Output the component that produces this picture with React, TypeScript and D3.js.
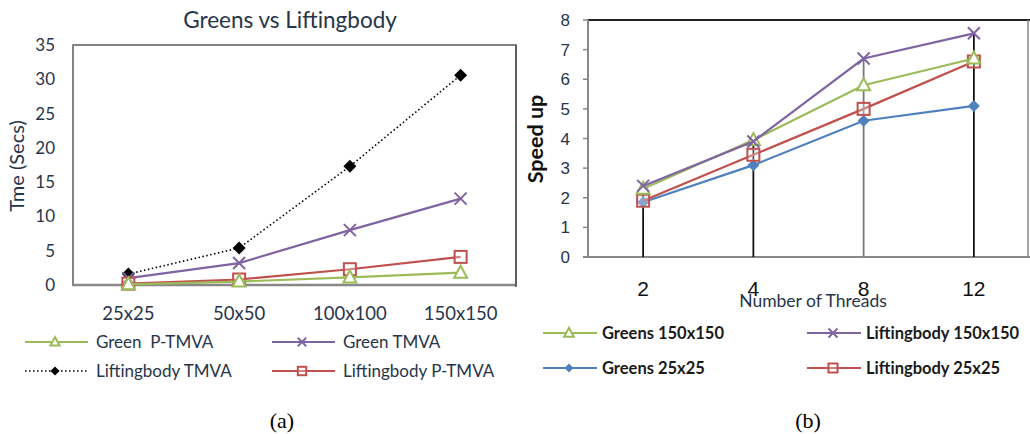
import * as d3 from "d3";

// ---- chart (a) data
const gridSizes = ["25x25", "50x50", "100x100", "150x150"];
const greenPTMVA = [0.1, 0.5, 1.1, 1.8];
const greenTMVA = [1.0, 3.2, 8.0, 12.6];
const liftTMVA = [1.6, 5.4, 17.3, 30.6];
const liftPTMVA = [0.2, 0.8, 2.3, 4.1];
const timeTicks = [0, 5, 10, 15, 20, 25, 30, 35];

// ---- chart (b) data
const threads = ["2", "4", "8", "12"];
const greens150 = [2.3, 3.95, 5.8, 6.7];
const lift150 = [2.4, 3.9, 6.7, 7.55];
const greens25 = [1.85, 3.1, 4.6, 5.1];
const lift25 = [1.9, 3.45, 5.0, 6.6];
const speedTicks = [0, 1, 2, 3, 4, 5, 6, 7, 8];

const GREEN = "#9bbb59";
const PURPLE = "#8064a2";
const RED = "#c0504d";
const BLUE = "#4f81bd";
const INK = "#27354a";
const CAL = "Lato, 'Open Sans', sans-serif";
const ARIAL = "'Liberation Sans', Arial, sans-serif";

type Kind = "tri" | "x" | "diamond" | "square" | "bdiamond";

function Marker({ kind, x, y, color, k = 1 }: { kind: Kind; x: number; y: number; color: string; k?: number }) {
  if (kind === "tri")
    return (
      <path
        d={`M${x},${y - 7 * k}L${x + 6.5 * k},${y + 5 * k}L${x - 6.5 * k},${y + 5 * k}Z`}
        fill="#fff"
        stroke={color}
        strokeWidth={2}
      />
    );
  if (kind === "x") {
    const r = 6 * k;
    return <path d={`M${x - r},${y - r}L${x + r},${y + r}M${x + r},${y - r}L${x - r},${y + r}`} stroke={color} strokeWidth={2} />;
  }
  if (kind === "diamond") {
    const r = 6.5 * k;
    return <path d={`M${x},${y - r}L${x + r},${y}L${x},${y + r}L${x - r},${y}Z`} fill={color} />;
  }
  if (kind === "bdiamond") {
    const r = 6 * k;
    return <path d={`M${x},${y - r}L${x + r},${y}L${x},${y + r}L${x - r},${y}Z`} fill={color} />;
  }
  const h = 6 * k;
  return <rect x={x - h} y={y - h} width={2 * h} height={2 * h} fill="#fff" fillOpacity={0.3} stroke={color} strokeWidth={2} />;
}

type Series = { name: string; values: number[]; color: string; kind: Kind; dash?: string; width: number };

export default function App() {
  // panel (a)
  const ax = d3.scalePoint<string>().domain(gridSizes).range([73, 516]).padding(0.5);
  const ay = d3.scaleLinear().domain([0, 35]).range([285, 45]);
  const aSeries: Series[] = [
    { name: "Liftingbody TMVA", values: liftTMVA, color: "#000", kind: "diamond", dash: "1.5,2.5", width: 1.6 },
    { name: "Green TMVA", values: greenTMVA, color: PURPLE, kind: "x", width: 2.2 },
    { name: "Liftingbody P-TMVA", values: liftPTMVA, color: RED, kind: "square", width: 2.2 },
    { name: "Green\u00a0 P-TMVA", values: greenPTMVA, color: GREEN, kind: "tri", width: 2.2 },
  ];
  const aLine = (vals: number[]) =>
    d3.line<number>().x((_, i) => ax(gridSizes[i])!).y((v) => ay(v))(vals) || "";

  // panel (b)
  const bx = d3.scalePoint<string>().domain(threads).range([588, 1029]).padding(0.5);
  const by = d3.scaleLinear().domain([0, 8]).range([257, 20]);
  const bSeries: Series[] = [
    { name: "Greens 25x25", values: greens25, color: BLUE, kind: "bdiamond", width: 2.2 },
    { name: "Liftingbody 25x25", values: lift25, color: RED, kind: "square", width: 2.2 },
    { name: "Greens 150x150", values: greens150, color: GREEN, kind: "tri", width: 2.2 },
    { name: "Liftingbody 150x150", values: lift150, color: PURPLE, kind: "x", width: 2.2 },
  ];
  const bLine = (vals: number[]) =>
    d3.line<number>().x((_, i) => bx(threads[i])!).y((v) => by(v))(vals) || "";
  const bMax = threads.map((_, i) => d3.max(bSeries, (s) => s.values[i])!);

  const legendA = [
    { s: aSeries[3], lx: 25, ty: 342 },
    { s: aSeries[1], lx: 272, ty: 342 },
    { s: aSeries[0], lx: 25, ty: 371 },
    { s: aSeries[2], lx: 272, ty: 371 },
  ];
  const legendB = [
    { s: bSeries[2], lx: 543, ty: 333 },
    { s: bSeries[3], lx: 807, ty: 333 },
    { s: bSeries[0], lx: 543, ty: 368 },
    { s: bSeries[1], lx: 807, ty: 368 },
  ];

  return (
    <svg width={1030} height={434} style={{ position: "absolute", left: 0, top: 0, background: "#fff" }}>
      {/* ----- panel (a) ----- */}
      <text x={290} y={28} textAnchor="middle" fontFamily={CAL} fontSize={22.5} fill={INK}>
        Greens vs Liftingbody
      </text>
      <rect x={73} y={45} width={443} height={240} fill="none" stroke="#777" strokeWidth={1.8} />
      <line x1={72} x2={516} y1={285} y2={285} stroke="#888" strokeWidth={2.5} />
      {timeTicks.map((t) => (
        <text key={t} x={55} y={ay(t) + 6} textAnchor="end" fontFamily={CAL} fontSize={17} fill={INK}>
          {t}
        </text>
      ))}
      <text transform={`translate(24,166) rotate(-90)`} textAnchor="middle" fontFamily={CAL} fontSize={20} fill={INK}>
        Tme (Secs)
      </text>
      {gridSizes.map((c) => (
        <text key={c} x={ax(c)} y={320} textAnchor="middle" fontFamily={CAL} fontSize={18.5} fill={INK}>
          {c}
        </text>
      ))}
      {aSeries.map((s) => (
        <g key={s.name}>
          <path d={aLine(s.values)} fill="none" stroke={s.color} strokeWidth={s.width} strokeDasharray={s.dash} />
          {s.values.map((v, i) => (
            <Marker key={i} kind={s.kind} x={ax(gridSizes[i])!} y={ay(v)} color={s.color} />
          ))}
        </g>
      ))}
      {legendA.map(({ s, lx, ty }) => (
        <g key={s.name}>
          <line x1={lx} x2={lx + 63} y1={ty} y2={ty} stroke={s.color} strokeWidth={s.width} strokeDasharray={s.dash} />
          <Marker kind={s.kind} x={lx + 30} y={ty} color={s.color} k={0.7} />
          <text x={lx + 71} y={ty + 6} fontFamily={CAL} fontSize={17} fill={INK}>
            {s.name}
          </text>
        </g>
      ))}
      <text x={282} y={428} textAnchor="middle" fontFamily="'Liberation Serif', serif" fontSize={22} fill="#000">
        (a)
      </text>

      {/* ----- panel (b) ----- */}
      <line x1={516} x2={516} y1={45} y2={287} stroke="#555" strokeWidth={1.5} />
      <line x1={588} x2={1030} y1={20} y2={20} stroke="#222" strokeWidth={1.8} />
      <line x1={1028} x2={1028} y1={20} y2={257} stroke="#888" strokeWidth={1.5} />
      <line x1={588} x2={588} y1={20} y2={257} stroke="#888" strokeWidth={2} />
      <line x1={583} x2={1030} y1={257} y2={257} stroke="#888" strokeWidth={2} />
      {speedTicks.map((t) => (
        <g key={t}>
          <line x1={583} x2={588} y1={by(t)} y2={by(t)} stroke="#888" strokeWidth={1.5} />
          <text x={570} y={by(t) + 6} textAnchor="end" fontFamily={ARIAL} fontSize={17} fill={INK}>
            {t}
          </text>
        </g>
      ))}
      <text
        transform={`translate(543,139) rotate(-90)`}
        textAnchor="middle"
        fontFamily={CAL}
        fontWeight="bold"
        fontSize={21.5}
        fill="#111"
      >
        Speed up
      </text>
      {threads.map((c, i) => (
        <g key={c}>
          <line x1={bx(c)} x2={bx(c)} y1={by(bMax[i])} y2={257} stroke={i === 2 ? "#777" : "#111"} strokeWidth={1.8} />
          <text x={bx(c)} y={296} textAnchor="middle" fontFamily={ARIAL} fontSize={21} fill="#111">
            {c}
          </text>
        </g>
      ))}
      <text x={813} y={307} textAnchor="middle" fontFamily={CAL} fontSize={17.5} fill={INK}>
        Number of Threads
      </text>
      {bSeries.map((s) => (
        <g key={s.name}>
          <path d={bLine(s.values)} fill="none" stroke={s.color} strokeWidth={s.width} />
          {s.values.map((v, i) => (
            <Marker key={i} kind={s.kind} x={bx(threads[i])!} y={by(v)} color={s.color} />
          ))}
        </g>
      ))}
      {legendB.map(({ s, lx, ty }) => (
        <g key={s.name}>
          <line x1={lx} x2={lx + 54} y1={ty} y2={ty} stroke={s.color} strokeWidth={s.width} />
          <Marker kind={s.kind} x={lx + 26} y={ty} color={s.color} k={0.75} />
          <text x={lx + 59} y={ty + 6} fontFamily={CAL} fontWeight="bold" fontSize={16.5} fill="#1a1a1a">
            {s.name}
          </text>
        </g>
      ))}
      <text x={808} y={428} textAnchor="middle" fontFamily="'Liberation Serif', serif" fontSize={22} fill="#000">
        (b)
      </text>
    </svg>
  );
}
